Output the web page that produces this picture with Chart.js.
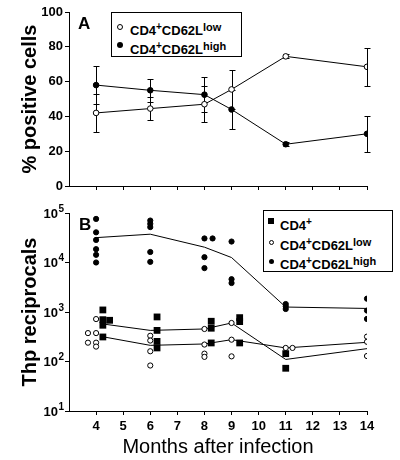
<!DOCTYPE html>
<html><head><meta charset="utf-8">
<script src="https://cdn.jsdelivr.net/npm/chart.js@4.4.1/dist/chart.umd.min.js"></script>
<style>
html,body{margin:0;padding:0;background:#fff;}
#wrap{position:relative;width:400px;height:460px;overflow:hidden;font-family:"Liberation Sans",Arial,sans-serif;color:#000;}
canvas{position:absolute;left:0;}
#ca{top:0;}
#cb{top:190px;}
.plab{position:absolute;font-weight:bold;font-size:17px;line-height:17px;}
.box{position:absolute;border:1px solid #000;background:#fff;box-sizing:border-box;}
.row{position:absolute;font-weight:bold;font-size:13px;line-height:13px;white-space:nowrap;}
.sp{font-size:10px;vertical-align:5px;}
.sl{font-size:11px;vertical-align:4px;}
.mk{position:absolute;box-sizing:border-box;}
.oc{border:1px solid #000;border-radius:50%;background:#fff;}
.fc{background:#000;border-radius:50%;}
.sq{background:#000;}
</style></head>
<body><div id="wrap">
<canvas id="ca" width="400" height="200"></canvas>
<canvas id="cb" width="400" height="270"></canvas>
<div class="plab" style="left:78px;top:15px;">A</div>
<div class="plab" style="left:79px;top:216px;">B</div>
<div class="box" style="left:111px;top:12px;width:131px;height:45px;"></div>
<div class="mk oc" style="left:116.5px;top:23.5px;width:6px;height:6px;"></div>
<div class="mk fc" style="left:116.5px;top:41.5px;width:6px;height:6px;"></div>
<div class="row" style="left:130px;top:19.5px;">CD4<span class="sp">+</span>CD62L<span class="sl">low</span></div>
<div class="row" style="left:130px;top:39px;">CD4<span class="sp">+</span>CD62L<span class="sl">high</span></div>
<div class="box" style="left:263px;top:210px;width:130px;height:62px;"></div>
<div class="mk sq" style="left:268px;top:218px;width:5.5px;height:5.5px;"></div>
<div class="mk oc" style="left:268.5px;top:239.5px;width:5.5px;height:5.5px;"></div>
<div class="mk fc" style="left:268.5px;top:258.5px;width:5.5px;height:5.5px;"></div>
<div class="row" style="left:280px;top:215px;">CD4<span class="sp">+</span></div>
<div class="row" style="left:280px;top:234.5px;">CD4<span class="sp">+</span>CD62L<span class="sl">low</span></div>
<div class="row" style="left:280px;top:253.5px;">CD4<span class="sp">+</span>CD62L<span class="sl">high</span></div>
</div>
<script>
// ---------- Data ----------
const FONT = '"Liberation Sans", Arial, sans-serif';
const xTicks = [4,5,6,7,8,9,10,11,12,13,14];
const yTicksA = [0,20,40,60,80,100];
const yExpB = [1,2,3,4,5];

// Panel A: % positive cells (mean +/- error)
const monthsA  = [4, 6, 8, 9, 11, 14];
const lowMean  = [42, 44.5, 47, 55.5, 74.5, 68.5];
const lowErr   = [11, 6.5, 10.5, 11, 1.2, 11];
const highMean = [58, 55, 52.5, 44, 24, 30];
const highErr  = [11, 6.5, 10, 11, 1.2, 10.5];

// Panel B: individual Thp reciprocals
const highX = [4,4,4,4,4,4, 6,6,6,6,6, 8,8.3,8,8, 9,9,9, 11,11,11, 14,14,14];
const highY = [76000,40700,28600,18600,14300,10000, 70400,60500,51900,16300,10300, 30600,30600,12800,7700, 26500,4600,3850, 1450,1300,1150, 1860,1070,725];
const lowX  = [3.7,3.7,4,4,4,4, 6,6,6,6, 8,8,8,8, 9,9,9, 11,11.25, 14,14,14];
const lowY  = [375,240,720,375,240,200, 331,265,161,83, 454,220,144,124, 600,276,127, 188,188, 318,250,129];
const cd4X  = [4.25,4.25,4.25,4.25,4.5, 6.25,6.25,6.25,6.25, 8.25,8.25,8.25, 9.3,9.3,9.3, 11,11, 14.3];
const cd4Y  = [1100,700,540,313,680, 795,425,255,188, 650,470,237, 770,640,237, 144,73, 131];

// Panel B: mean lines
const highMeanX = [4, 6, 8, 9, 11, 14];
const highMeanY = [31800, 37300, 20400, 12600, 1260, 1180];
const cd4MeanX  = [4.25, 6, 8, 9, 11, 14];
const cd4MeanY  = [573, 425, 454, 600, 110, 182];
const lowMeanX  = [4.25, 6, 8, 9, 11, 14];
const lowMeanY  = [316, 212, 226, 276, 188, 244];

const pts = (xs, ys) => xs.map((x, i) => ({x, y: ys[i]}));

// ---------- Plugins ----------
const errorBars = {
  id: 'errorBars',
  beforeDatasetsDraw(chart) {
    const {ctx, scales: {x, y}} = chart;
    ctx.save();
    ctx.strokeStyle = '#000'; ctx.lineWidth = 1;
    [[lowMean, lowErr], [highMean, highErr]].forEach(([m, e]) => {
      monthsA.forEach((mo, i) => {
        const px = Math.round(x.getPixelForValue(mo)) + 0.5;
        const t = Math.round(y.getPixelForValue(m[i] + e[i])) + 0.5;
        const b = Math.round(y.getPixelForValue(m[i] - e[i])) + 0.5;
        ctx.beginPath();
        ctx.moveTo(px, t); ctx.lineTo(px, b);
        ctx.moveTo(px - 3, t); ctx.lineTo(px + 3, t);
        ctx.moveTo(px - 3, b); ctx.lineTo(px + 3, b);
        ctx.stroke();
      });
    });
    ctx.restore();
  }
};

const logLabels = {
  id: 'logLabels',
  afterDraw(chart) {
    const y = chart.scales.y, ctx = chart.ctx;
    ctx.save(); ctx.fillStyle = '#000'; ctx.textBaseline = 'alphabetic';
    yExpB.forEach(ex => {
      const py = y.getPixelForValue(Math.pow(10, ex));
      const r = y.right - 11;
      ctx.font = 'bold 13px ' + FONT; ctx.textAlign = 'right';
      ctx.fillText('10', r, py + 4.5);
      ctx.font = 'bold 10px ' + FONT; ctx.textAlign = 'left';
      ctx.fillText(String(ex), r + 0.5, py - 1.5);
    });
    ctx.restore();
  }
};

const tickCol = c => (c.tick && c.tick.value === 3) ? 'rgba(0,0,0,0)' : '#000';

// ---------- Chart A ----------
new Chart(document.getElementById('ca'), {
  type: 'scatter',
  data: { datasets: [
    { data: pts(monthsA, lowMean), showLine: true, borderColor: '#000', borderWidth: 1,
      pointRadius: 2.8, pointBackgroundColor: '#fff', pointBorderColor: '#000', pointBorderWidth: 1 },
    { data: pts(monthsA, highMean), showLine: true, borderColor: '#000', borderWidth: 1,
      pointRadius: 2.8, pointBackgroundColor: '#000', pointBorderColor: '#000', pointBorderWidth: 1 }
  ]},
  options: {
    responsive: false, animation: false, devicePixelRatio: 1,
    layout: { padding: { left: 0, right: 33, top: 12, bottom: 0 } },
    plugins: { legend: { display: false }, tooltip: { enabled: false } },
    scales: {
      x: { type: 'linear', min: 3, max: 14,
        afterFit: s => { s.height = 14; },
        ticks: { display: false, stepSize: 1 },
        grid: { drawOnChartArea: false, tickLength: 4, color: '#000', tickColor: tickCol },
        border: { color: '#000', width: 1 } },
      y: { min: 0, max: 100,
        afterFit: s => { s.width = 69; },
        ticks: { stepSize: 10, color: '#000', padding: 2,
          font: { family: FONT, size: 13, weight: 'bold' },
          callback: v => yTicksA.includes(v) ? String(v) : '' },
        grid: { drawOnChartArea: false, tickLength: 4, color: '#000' },
        border: { color: '#000', width: 1 },
        title: { display: true, text: '% positive cells', color: '#000',
          font: { family: FONT, size: 20, weight: 'bold' }, padding: { top: 18 } } }
    }
  },
  plugins: [errorBars]
});

// ---------- Chart B ----------
new Chart(document.getElementById('cb'), {
  type: 'scatter',
  data: { datasets: [
    { data: pts(cd4X, cd4Y), pointStyle: 'rect', pointRadius: 4.8, pointBackgroundColor: '#000', pointBorderWidth: 0, order: 1 },
    { data: pts(lowX, lowY), pointRadius: 2.6, pointBackgroundColor: '#fff', pointBorderColor: '#000', pointBorderWidth: 1, order: 2 },
    { data: pts(highX, highY), pointRadius: 2.6, pointBackgroundColor: '#000', pointBorderColor: '#000', pointBorderWidth: 1, order: 3 },
    { data: pts(highMeanX, highMeanY), showLine: true, pointRadius: 0, borderColor: '#000', borderWidth: 1, order: 4 },
    { data: pts(cd4MeanX, cd4MeanY), showLine: true, pointRadius: 0, borderColor: '#000', borderWidth: 1, order: 5 },
    { data: pts(lowMeanX, lowMeanY), showLine: true, pointRadius: 0, borderColor: '#000', borderWidth: 1, order: 6 }
  ]},
  options: {
    responsive: false, animation: false, devicePixelRatio: 1,
    layout: { padding: { left: 0, right: 33, top: 23, bottom: 0 } },
    plugins: { legend: { display: false }, tooltip: { enabled: false } },
    scales: {
      x: { type: 'linear', min: 3, max: 14,
        afterFit: s => { s.height = 49; },
        ticks: { stepSize: 1, autoSkip: false, maxRotation: 0, color: '#000', padding: 4,
          font: { family: FONT, size: 13, weight: 'bold' },
          callback: v => xTicks.includes(v) ? String(v) : '' },
        grid: { drawOnChartArea: false, tickLength: 4, color: '#000', tickColor: tickCol },
        border: { color: '#000', width: 1 },
        title: { display: true, text: 'Months after infection', color: '#000',
          font: { family: FONT, size: 20, weight: 'normal' }, padding: { top: 0, bottom: 1 } } },
      y: { type: 'logarithmic', min: 10, max: 100000,
        afterFit: s => { s.width = 69; },
        afterBuildTicks: s => { s.ticks = s.ticks.filter(t => yExpB.some(e => Math.abs(Math.log10(t.value) - e) < 1e-9)); },
        ticks: { display: false },
        grid: { drawOnChartArea: false, tickLength: 4, color: '#000' },
        border: { color: '#000', width: 1 },
        title: { display: true, text: 'Thp reciprocals', color: '#000',
          font: { family: FONT, size: 20, weight: 'bold' }, padding: { top: 18 } } }
    }
  },
  plugins: [logLabels]
});
</script>
</body></html>
